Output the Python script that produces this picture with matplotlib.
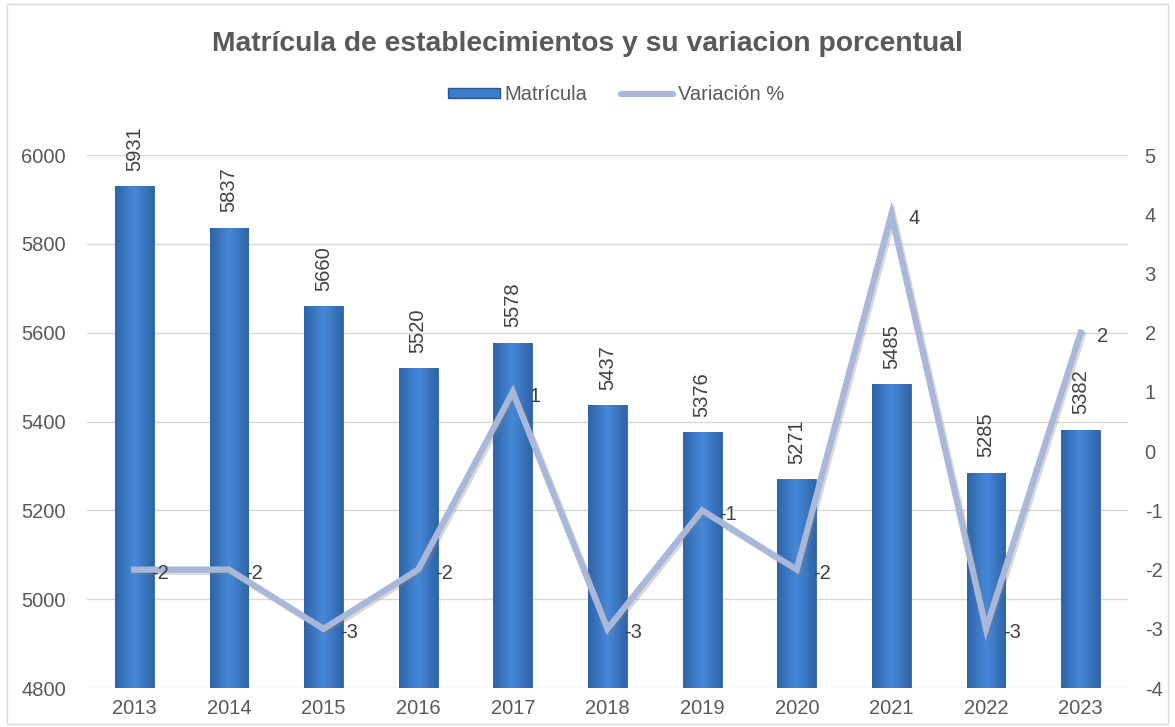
import numpy as np
import matplotlib.pyplot as plt
from matplotlib.patches import Rectangle
from matplotlib.lines import Line2D
import matplotlib.patheffects as pe

plt.rcParams['font.family'] = ['Liberation Sans', 'DejaVu Sans']
plt.rcParams['axes.unicode_minus'] = False

years = ['2013', '2014', '2015', '2016', '2017', '2018', '2019', '2020', '2021', '2022', '2023']
matricula = [5931, 5837, 5660, 5520, 5578, 5437, 5376, 5271, 5485, 5285, 5382]
variacion = [-2, -2, -3, -2, 1, -3, -1, -2, 4, -3, 2]

txt = '#595959'
bar_col = '#3b7bca'
line_col = '#a9b7d8'

fig = plt.figure(figsize=(11.75, 7.27), dpi=100)
fig.patches.append(Rectangle((0.006, 0.004), 0.988, 0.99, transform=fig.transFigure,
                             fill=False, edgecolor='#d9d9d9', lw=1))
ax = fig.add_axes([0.074, 0.0536, 0.886, 0.733])
ax2 = ax.twinx()

x = np.arange(len(years))
bars = ax.bar(x, matricula, width=0.41, color=bar_col, edgecolor='#2f63a6', lw=0.6, zorder=2)

# gradiente horizontal dentro de cada barra
grad = np.linspace(0, 1, 64)
grad = 1 - np.abs(grad - 0.5) * 2
cmap = plt.matplotlib.colors.LinearSegmentedColormap.from_list('b', ['#2f64a8', '#4688d8'])
for b in bars:
    x0, w, h = b.get_x(), b.get_width(), b.get_height()
    im = ax.imshow(grad[None, :], extent=[x0, x0 + w, 4800, h], cmap=cmap,
                   aspect='auto', zorder=2.1)
    im.set_clip_path(b)
    ax.annotate(str(int(h)), (x0 + w / 2, h), xytext=(0, 11), textcoords='offset points',
                rotation=90, ha='center', va='bottom', fontsize=14.5, color='#404040',
                zorder=5)

ax.set_xlim(-0.5, len(years) - 0.5)
ax.set_ylim(4800, 6000)
ax.set_yticks(np.arange(4800, 6001, 200))
ax.set_xticks(x)
ax.set_xticklabels(years)
ax.grid(axis='y', color='#d9d9d9', lw=1)
ax.set_axisbelow(True)

ax2.plot(x, variacion, color=line_col, lw=4.5, solid_joinstyle='miter', zorder=3,
         path_effects=[pe.SimpleLineShadow(offset=(1.5, -1.5), shadow_color='gray', alpha=0.3),
                       pe.Normal()])
for xi, v in zip(x, variacion):
    ax2.annotate(str(v), (xi, v), xytext=(12, -3), textcoords='offset points',
                 ha='left', va='center', fontsize=14.5, color='#404040', zorder=6)
ax2.set_ylim(-4, 5)
ax2.set_yticks(np.arange(-4, 6, 1))

for a in (ax, ax2):
    for s in a.spines.values():
        s.set_visible(False)
    a.tick_params(length=0, labelsize=14.5, labelcolor=txt, pad=8)
ax.tick_params(axis='y', pad=15)
ax2.tick_params(axis='y', pad=12)

fig.text(0.5, 0.94, 'Matrícula de establecimientos y su variacion porcentual', ha='center',
         va='center', fontsize=20.3, fontweight='bold', color=txt)

handles = [Rectangle((0, 0), 1, 1, facecolor=bar_col, edgecolor='#2a568f'),
           Line2D([0], [0], color=line_col, lw=4.5, solid_capstyle='round')]
fig.legend(handles, ['Matrícula', 'Variación %'], loc='center', bbox_to_anchor=(0.524, 0.87),
           ncol=2, frameon=False, fontsize=14.5, labelcolor=txt, handlelength=2.6,
           handleheight=0.4, handletextpad=0.2, columnspacing=1.7)

fig.savefig('out.png', dpi=100)
